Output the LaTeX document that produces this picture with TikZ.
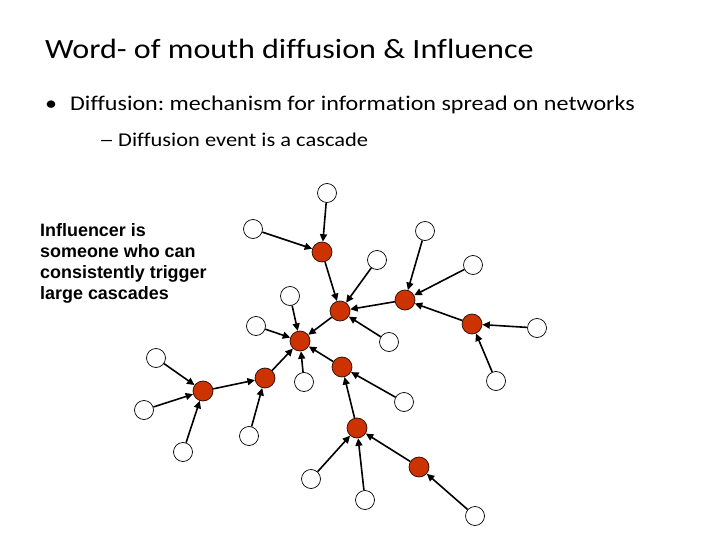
\documentclass[tikz,border=0pt]{standalone}
\usepackage{fontspec}
\setmainfont[FakeStretch=1.15, Ligatures=NoCommon]{Carlito}
\newfontfamily\notefont{Liberation Sans}
\usetikzlibrary{arrows.meta}
\definecolor{fired}{RGB}{204,51,0}
\frenchspacing

\begin{document}
\begin{tikzpicture}[
    x=1bp, y=-1bp,
    active/.style={circle, draw=black!80!fired, line width=0.7bp, fill=fired, minimum size=20bp, inner sep=0pt},
    idle/.style={circle, draw, line width=0.7bp, fill=white, minimum size=19bp, inner sep=0pt},
    arrow/.style={-{Triangle[length=7.5bp, width=7bp]}, line width=1.6bp},
    slidetext/.style={anchor=base west, inner sep=0pt}
  ]
    \useasboundingbox (0,0) rectangle (720,540);

    % slide text
    \node[slidetext] (title) at (45,59) {\fontsize{28}{34}\selectfont Word- of mouth diffusion \& Influence};
    \node[slidetext] (bullet) at (45,111) {\fontsize{21}{25}\selectfont\makebox[25bp][l]{\textbullet}Diffusion: mechanism for information spread on networks};
    \node[slidetext] (subbullet) at (99,147) {\fontsize{19.6}{24}\selectfont\makebox[19bp][l]{\scalebox{1.35}[1]{–}}Diffusion event is a cascade};
    \node[anchor=north west, inner sep=0pt, align=left, font=\notefont\bfseries\fontsize{18}{21.3}\selectfont] (note) at (40,223)
      {Influencer is\\someone who can\\consistently trigger\\large cascades};

    % activated nodes
    \node[active] (a1) at (322,252) {};
    \node[active] (a2) at (340,311) {};
    \node[active] (a3) at (405,300) {};
    \node[active] (a4) at (472,324) {};
    \node[active] (a5) at (300,341) {};
    \node[active] (a6) at (265,378) {};
    \node[active] (a7) at (203,391) {};
    \node[active] (a8) at (342,367) {};
    \node[active] (a9) at (357,428) {};
    \node[active] (a10) at (419,467) {};

    % inactive nodes
    \node[idle] (n1) at (327,193) {};
    \node[idle] (n2) at (253,229) {};
    \node[idle] (n3) at (377,260) {};
    \node[idle] (n4) at (425,231) {};
    \node[idle] (n5) at (473,265) {};
    \node[idle] (n6) at (537,328) {};
    \node[idle] (n7) at (496,381) {};
    \node[idle] (n8) at (290,296) {};
    \node[idle] (n9) at (256,326) {};
    \node[idle] (n10) at (389,342) {};
    \node[idle] (n11) at (304,382) {};
    \node[idle] (n12) at (156,358) {};
    \node[idle] (n13) at (144,410) {};
    \node[idle] (n14) at (183,452) {};
    \node[idle] (n15) at (249,436) {};
    \node[idle] (n16) at (404,402) {};
    \node[idle] (n17) at (311,479) {};
    \node[idle] (n18) at (365,500) {};
    \node[idle] (n19) at (475,516) {};

    % cascade edges
    \draw[arrow] (n1) -- (a1);
    \draw[arrow] (n2) -- (a1);
    \draw[arrow] (a1) -- (a2);
    \draw[arrow] (n3) -- (a2);
    \draw[arrow] (n10) -- (a2);
    \draw[arrow] (a3) -- (a2);
    \draw[arrow] (n4) -- (a3);
    \draw[arrow] (n5) -- (a3);
    \draw[arrow] (a4) -- (a3);
    \draw[arrow] (n6) -- (a4);
    \draw[arrow] (n7) -- (a4);
    \draw[arrow] (a2) -- (a5);
    \draw[arrow] (n8) -- (a5);
    \draw[arrow] (n9) -- (a5);
    \draw[arrow] (n11) -- (a5);
    \draw[arrow] (a6) -- (a5);
    \draw[arrow] (a8) -- (a5);
    \draw[arrow] (a7) -- (a6);
    \draw[arrow] (n15) -- (a6);
    \draw[arrow] (n12) -- (a7);
    \draw[arrow] (n13) -- (a7);
    \draw[arrow] (n14) -- (a7);
    \draw[arrow] (n16) -- (a8);
    \draw[arrow] (a9) -- (a8);
    \draw[arrow] (n17) -- (a9);
    \draw[arrow] (n18) -- (a9);
    \draw[arrow] (a10) -- (a9);
    \draw[arrow] (n19) -- (a10);
  \end{tikzpicture}
\end{document}
